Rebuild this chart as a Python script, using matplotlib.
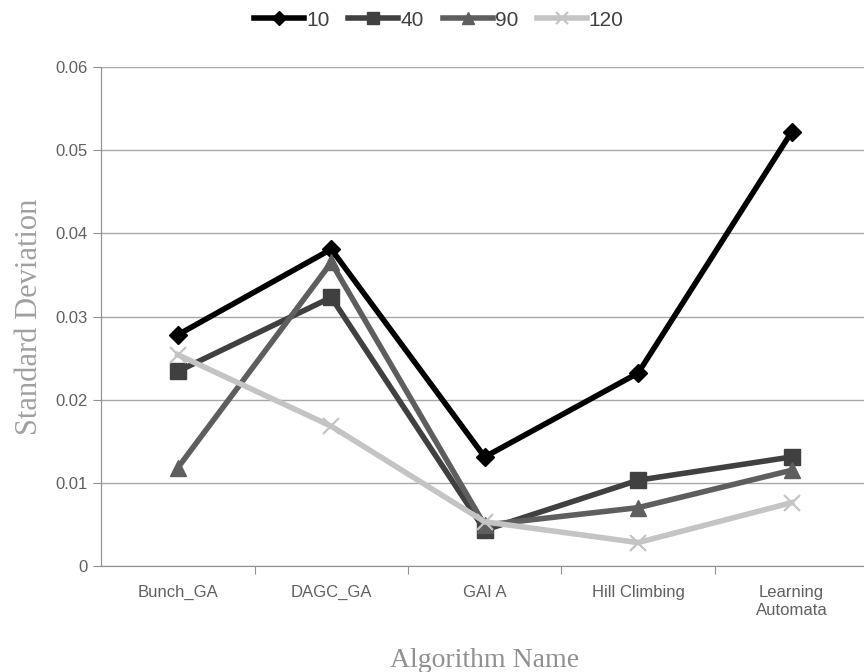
import matplotlib.pyplot as plt

# Standard deviation per algorithm for each run size
algorithms = ["Bunch_GA", "DAGC_GA", "GALA", "Hill Climbing", "Learning\nAutomata"]
tick_names = ["Bunch_GA", "DAGC_GA", "GAI A", "Hill Climbing", "Learning\nAutomata"]
series_names = ["10", "40", "90", "120"]
sd_10 = [0.0278, 0.0381, 0.0131, 0.0232, 0.0522]
sd_40 = [0.0234, 0.0323, 0.0043, 0.0103, 0.0131]
sd_90 = [0.0118, 0.0365, 0.0049, 0.0070, 0.0115]
sd_120 = [0.0254, 0.0168, 0.0053, 0.0028, 0.0076]
y_ticks = [0, 0.01, 0.02, 0.03, 0.04, 0.05, 0.06]
y_tick_labels = ["0", "0.01", "0.02", "0.03", "0.04", "0.05", "0.06"]

fig = plt.figure(figsize=(8.64, 6.72), dpi=100)
ax = fig.add_axes([0.117, 0.158, 0.888, 0.742])

styles = [
    dict(color="#000000", marker="D", markersize=9),
    dict(color="#404040", marker="s", markersize=11),
    dict(color="#5e5e5e", marker="^", markersize=11),
    dict(color="#c4c4c4", marker="x", markersize=12, markeredgewidth=1.6),
]
x = list(range(len(algorithms)))
for name, vals, st in zip(series_names, [sd_10, sd_40, sd_90, sd_120], styles):
    ax.plot(x, vals, linewidth=4, label=name, zorder=3, **st)

ax.set_xlim(-0.5, len(algorithms) - 0.5)
ax.set_ylim(0, 0.06)
ax.set_yticks(y_ticks)
ax.set_yticklabels(y_tick_labels, fontsize=12, color="#606060", family="Liberation Sans")
ax.grid(axis="y", color="#a8a8a8", linewidth=1)
ax.set_axisbelow(True)

# category labels centred, tick marks on the boundaries
ax.set_xticks([i + 0.5 for i in range(len(algorithms) - 1)])
ax.set_xticklabels([])
ax.set_xticks(x, minor=True)
ax.set_xticklabels(tick_names, minor=True, fontsize=12, color="#606060",
                   family="Liberation Sans")
ax.tick_params(axis="x", which="minor", length=0, pad=14)
ax.tick_params(axis="x", which="major", length=6, color="#909090")
ax.tick_params(axis="y", length=6, color="#909090")

for s in ["top", "right"]:
    ax.spines[s].set_visible(False)
for s in ["left", "bottom"]:
    ax.spines[s].set_color("#909090")

ax.set_ylabel("Standard Deviation", fontsize=22, color="#a0a0a0",
              family="Liberation Serif", labelpad=8)
ax.set_xlabel("Algorithm Name", fontsize=20, color="#909090",
              family="Liberation Serif", labelpad=22)

fig.legend(loc="upper center", bbox_to_anchor=(0.508, 1.012), ncol=4, frameon=False,
           handlelength=2.4, handletextpad=0.1, columnspacing=0.9, markerscale=0.75,
           prop={"family": "Liberation Sans", "size": 15}, labelcolor="#404040")

fig.savefig("out.png", dpi=100)
